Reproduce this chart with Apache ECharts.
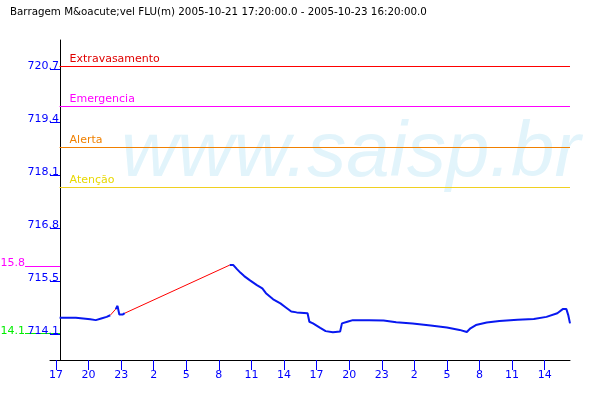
<!DOCTYPE html>
<html><head><meta charset="utf-8">
<script src="https://cdn.jsdelivr.net/npm/echarts@6/dist/echarts.min.js"></script>
<style>html,body{margin:0;padding:0;background:#fff}#c{width:600px;height:400px}</style>
</head><body><div id="c"></div>
<script>
// ---- data ----
const baseTime = '2005-10-21T17:00:00';
const levelTimes = [
 '2005-10-21T17:20','2005-10-21T18:50','2005-10-21T19:00','2005-10-21T20:10','2005-10-21T20:20','2005-10-21T20:40',
 '2005-10-21T20:50','2005-10-21T21:10','2005-10-21T21:20','2005-10-21T21:40','2005-10-21T21:50','2005-10-21T22:00',
 null,
 '2005-10-21T22:30','2005-10-21T22:40','2005-10-21T22:50','2005-10-21T23:10','2005-10-21T23:20',
 null,
 '2005-10-22T09:00','2005-10-22T09:20','2005-10-22T09:40','2005-10-22T10:00','2005-10-22T10:20','2005-10-22T10:50',
 '2005-10-22T11:30','2005-10-22T12:00','2005-10-22T12:20','2005-10-22T13:00','2005-10-22T13:40','2005-10-22T14:10',
 '2005-10-22T14:40','2005-10-22T15:10','2005-10-22T16:10','2005-10-22T16:20','2005-10-22T16:40','2005-10-22T17:20',
 '2005-10-22T17:50','2005-10-22T18:30','2005-10-22T19:10','2005-10-22T19:20','2005-10-22T19:50','2005-10-22T20:20',
 '2005-10-22T21:50','2005-10-22T23:10','2005-10-23T00:20','2005-10-23T01:50','2005-10-23T03:30','2005-10-23T05:00',
 '2005-10-23T06:10','2005-10-23T06:50','2005-10-23T07:10','2005-10-23T07:40','2005-10-23T08:40','2005-10-23T09:50',
 '2005-10-23T11:30','2005-10-23T13:00','2005-10-23T14:10','2005-10-23T15:10','2005-10-23T15:40','2005-10-23T16:00',
 '2005-10-23T16:10','2005-10-23T16:20'
];
const levelValues = [
 714.55,714.55,714.52,714.51,714.49,714.49,
 714.53,714.53,714.57,714.57,714.60,714.61,
 null,
 714.76,714.84,714.63,714.63,714.66,
 null,
 715.84,715.84,715.74,715.65,715.57,715.47,
 715.35,715.27,715.15,715.00,714.90,714.80,
 714.70,714.68,714.66,714.45,714.41,714.30,
 714.22,714.19,714.21,714.41,714.45,714.49,
 714.49,714.48,714.44,714.41,714.36,714.31,
 714.25,714.20,714.29,714.37,714.43,714.47,
 714.50,714.52,714.57,714.66,714.76,714.76,
 714.62,714.41
];
// interpolated gaps (drawn in red)
const gapTimes  = ['2005-10-21T22:00','2005-10-21T22:30', null, '2005-10-21T23:20','2005-10-22T09:00'];
const gapValues = [714.61, 714.76, null, 714.66, 715.84];

const refNames  = ['Extravasamento','Emergencia','Alerta','Atenção'];
const refValues = [720.72, 719.74, 718.74, 717.76];
const refColors = ['#ff0000','#ff00ff','#f08000','#f0d020'];
const refLabelColors = ['#e00000','#ff00ff','#f08000','#e8d800'];

const yTickValues = [714.15, 715.45, 716.75, 718.05, 719.35, 720.65];
const yTickLabels = ['714.1','715.5','716.8','718.1','719.4','720.7'];
const xTickHours  = [0,3,6,9,12,15,18,21,24,27,30,33,36,39,42,45];
const xTickLabels = ['17','20','23','2','5','8','11','14','17','20','23','2','5','8','11','14'];

const maxMarker = {value: 715.82, label: '15.8'};
const minMarker = {value: 714.17, label: '14.1'};

const titleText = 'Barragem M&oacute;vel FLU(m) 2005-10-21 17:20:00.0 - 2005-10-23 16:20:00.0';
const startTime = '2005-10-21T17:20';
const endTime = '2005-10-23T16:20';
const axisStartTime = '2005-10-21T16:27';

// ---- helpers ----
const base = Date.parse(baseTime);
const hrs = t => (Date.parse(t) - base) / 3600000;
const pairs = (ts, vs) => ts.map((t, i) => t === null ? [NaN, '-'] : [hrs(t), vs[i]]);
const fontFam = 'DejaVu Sans';
const yMin = 713.512, yMax = 721.361;

const markerAxis = (m, color) => ({
  type: 'value', position: 'left', offset: -10, min: yMin, max: yMax,
  splitLine: {show: false}, axisLine: {show: false},
  axisTick: {show: true, inside: false, length: 35, customValues: [m.value], lineStyle: {color: color, width: 1}},
  axisLabel: {show: true, customValues: [m.value], formatter: () => m.label, color: color,
    fontFamily: fontFam, fontSize: 11, margin: 35, verticalAlign: 'bottom', lineHeight: 5}
});

const chart = echarts.init(document.getElementById('c'), null, {renderer: 'canvas'});
chart.setOption({
  animation: false,
  backgroundColor: '#fff',
  title: {text: titleText, left: 5, top: 2, textStyle: {fontFamily: fontFam, fontSize: 10.3, fontWeight: 'normal', color: '#000'}},
  graphic: [{type: 'text', x: 121, y: 115, z: 0, silent: true,
    style: {text: 'www.saisp.br', font: 'italic 78px "Liberation Sans"', fill: '#e2f4fb', verticalAlign: 'top'}}],
  grid: {left: 50, right: 30, top: 40, bottom: 40, containLabel: false, outerBoundsMode: 'none'},
  xAxis: {
    type: 'value', min: hrs(axisStartTime), max: hrs(endTime),
    splitLine: {show: false},
    axisLine: {show: true, onZero: false, lineStyle: {color: '#000', width: 1}},
    axisTick: {show: true, length: 10, customValues: xTickHours, lineStyle: {color: '#0000ff'}},
    axisLabel: {customValues: xTickHours, formatter: v => xTickLabels[xTickHours.indexOf(Math.round(v))],
      color: '#0000ff', fontFamily: fontFam, fontSize: 11, margin: 10, verticalAlign: 'top', lineHeight: 11}
  },
  yAxis: [{
    type: 'value', min: yMin, max: yMax, offset: -10,
    splitLine: {show: false},
    axisLine: {show: true, onZero: false, lineStyle: {color: '#000', width: 1}},
    axisTick: {show: true, length: 10, customValues: yTickValues, lineStyle: {color: '#0000ff'}},
    axisLabel: {customValues: yTickValues,
      formatter: v => { let i = 0, d = 1e9; yTickValues.forEach((t, k) => { if (Math.abs(t - v) < d) { d = Math.abs(t - v); i = k; } }); return yTickLabels[i]; },
      color: '#0000ff', fontFamily: fontFam, fontSize: 11, margin: 1, verticalAlign: 'bottom', lineHeight: 5}
  }, markerAxis(maxMarker, '#ff00ff'), markerAxis(minMarker, '#00ee00')],
  series: [{
    type: 'line', name: 'gap', data: pairs(gapTimes, gapValues), showSymbol: false, connectNulls: false,
    lineStyle: {color: '#ff0000', width: 1}, z: 3, silent: true
  }, {
    type: 'line', name: 'nivel', data: pairs(levelTimes, levelValues), showSymbol: false, connectNulls: false,
    lineStyle: {color: '#0818f0', width: 2}, z: 4, silent: true,
    markLine: {
      silent: true, symbol: ['none', 'none'],
      data: refNames.map((n, i) => [
        {name: n, coord: [hrs(startTime), refValues[i]], lineStyle: {color: refColors[i], width: 1, type: 'solid'},
         label: {color: refLabelColors[i]}},
        {coord: [hrs(endTime), refValues[i]], lineStyle: {color: refColors[i], width: 1, type: 'solid'}}
      ]),
      label: {show: true, position: 'insideStartTop', formatter: '{b}', fontFamily: fontFam, fontSize: 11, distance: [10, 1]}
    }
  }]
});
</script></body></html>
